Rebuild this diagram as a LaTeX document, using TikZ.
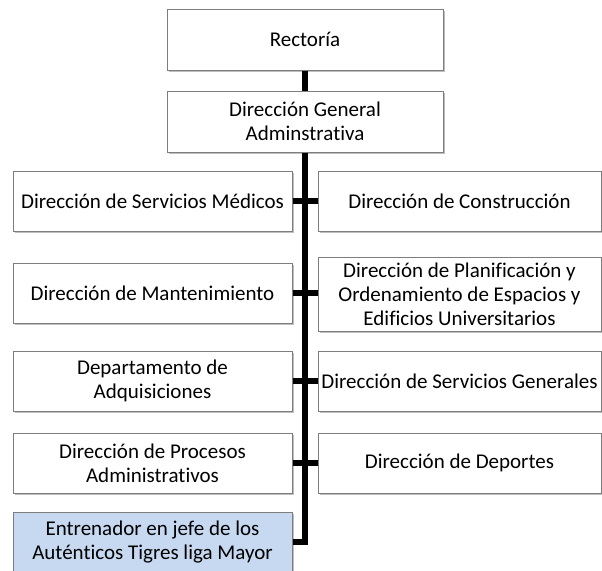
\documentclass[tikz,border=0pt]{standalone}
\usepackage{fontspec}
\setmainfont{Carlito}[Ligatures={NoCommon}]
\usetikzlibrary{shadows}
\definecolor{boxline}{RGB}{125,125,125}
\definecolor{lightblue}{RGB}{198,217,241}
\tikzset{
  orgbox/.style={draw=boxline, line width=1pt, fill=white, rectangle, align=center,
    inner sep=1pt, font=\fontsize{21}{24}\selectfont,
    drop shadow={shadow xshift=1.5pt, shadow yshift=-2pt, opacity=0.25, fill=black}},
  topbox/.style={orgbox, minimum width=276pt, minimum height=61pt},
  leftbox/.style={orgbox, minimum width=279pt, minimum height=60pt},
  rightbox/.style={orgbox, minimum width=283pt, minimum height=60pt},
  link/.style={line width=6pt, draw=black}
}
\begin{document}
\begin{tikzpicture}[x=1pt,y=-1pt]
\useasboundingbox (0,0) rectangle (602,570);
\clip (0,0) rectangle (602,570);
\fill[white] (0,0) rectangle (602,570);
\node[topbox] (rect) at (305,39.5) {Rectoría};
\node[topbox] (dga) at (305,121.5) {Dirección General\\Adminstrativa};
\node[leftbox] (l1) at (152.5,201) {Dirección de Servicios Médicos};
\node[rightbox] (r1) at (459.5,201) {Dirección de Construcción};
\node[leftbox] (l2) at (152.5,293) {Dirección de Mantenimiento};
\node[rightbox, minimum height=74pt] (r2) at (459.5,294) {Dirección de Planificación y\\Ordenamiento de Espacios y\\Edificios Universitarios};
\node[leftbox] (l3) at (152.5,381) {Departamento de\\Adquisiciones};
\node[rightbox] (r3) at (459.5,381) {Dirección de Servicios Generales};
\node[leftbox] (l4) at (152.5,463) {Dirección de Procesos\\Administrativos};
\node[rightbox] (r4) at (459.5,463) {Dirección de Deportes};
\node[leftbox, fill=lightblue, minimum height=60pt] (l5) at (152.5,542) {Entrenador en jefe de los\\Auténticos Tigres liga Mayor};
\coordinate (elbow) at (305,542);
\draw[link] (rect.south) -- (dga.north);
\draw[link] (dga.south) -- (elbow) -- (l5.east);
\draw[link] (l1.east) -- (l1.east -| r1.west);
\draw[link] (l2.east) -- (l2.east -| r2.west);
\draw[link] (l3.east) -- (l3.east -| r3.west);
\draw[link] (l4.east) -- (l4.east -| r4.west);
\end{tikzpicture}
\end{document}
